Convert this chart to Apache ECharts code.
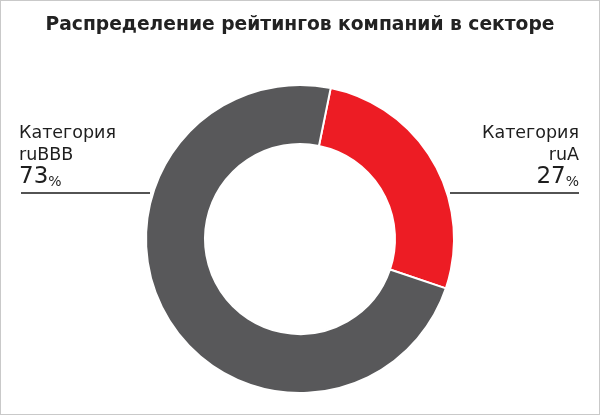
<!DOCTYPE html>
<html><head><meta charset="utf-8">
<script src="https://cdn.jsdelivr.net/npm/echarts@6/dist/echarts.min.js"></script>
<style>
html,body{margin:0;padding:0;background:#fff;}
#c{width:600px;height:415px;box-sizing:border-box;border:1px solid #c9c9c9;}
</style></head>
<body><div id="c"></div>
<script>
const titleText = 'Распределение рейтингов компаний в секторе';
const categories = ['Категория\nruA', 'Категория\nruBBB'];
const values = [27, 73];
const colors = ['#ed1c24', '#58585a'];

const FONT = '"DejaVu Sans", sans-serif';
const TXT = '#1e1e1e';
const chart = echarts.init(document.getElementById('c'), null, {renderer: 'canvas'});
chart.setOption({
  animation: false,
  title: {
    text: titleText, left: 'center', top: 10,
    textStyle: {fontFamily: FONT, fontWeight: 'bold', fontSize: 18.7, color: '#222'}
  },
  series: [{
    type: 'pie',
    center: [299, 238],
    radius: [95, 154],
    startAngle: 78.5,
    clockwise: true,
    itemStyle: {borderColor: '#fff', borderWidth: 2},
    data: categories.map((c, i) => ({name: c, value: values[i], itemStyle: {color: colors[i]}})),
    label: {
      show: true,
      position: 'outside',
      fontFamily: FONT,
      color: TXT,
      formatter: p => {
        const lines = p.name.split('\n');
        return '{a|' + lines[0] + '}\n{a|' + lines[1] + '}\n{b|' + p.value + '}{c|%}';
      },
      rich: {
        a: {fontSize: 17.5, lineHeight: 22, fontFamily: FONT, fontWeight: 'normal', color: TXT},
        b: {fontSize: 23, lineHeight: 23, fontFamily: FONT, fontWeight: 'normal', color: TXT, verticalAlign: 'bottom'},
        c: {fontSize: 14, lineHeight: 23, fontFamily: FONT, fontWeight: 'normal', color: TXT, verticalAlign: 'bottom'}
      }
    },
    labelLine: {show: true, lineStyle: {color: '#1a1a1a', width: 1.5}},
    labelLayout: function (params) {
      const right = params.dataIndex === 0;
      const y = 192;
      if (right) {
        return {x: 578, y: 188, align: 'right', verticalAlign: 'bottom',
          labelLinePoints: [[449, y], [514, y], [578, y]]};
      }
      return {x: 18, y: 188, align: 'left', verticalAlign: 'bottom',
        labelLinePoints: [[149, y], [85, y], [20, y]]};
    }
  }]
});
</script></body></html>
